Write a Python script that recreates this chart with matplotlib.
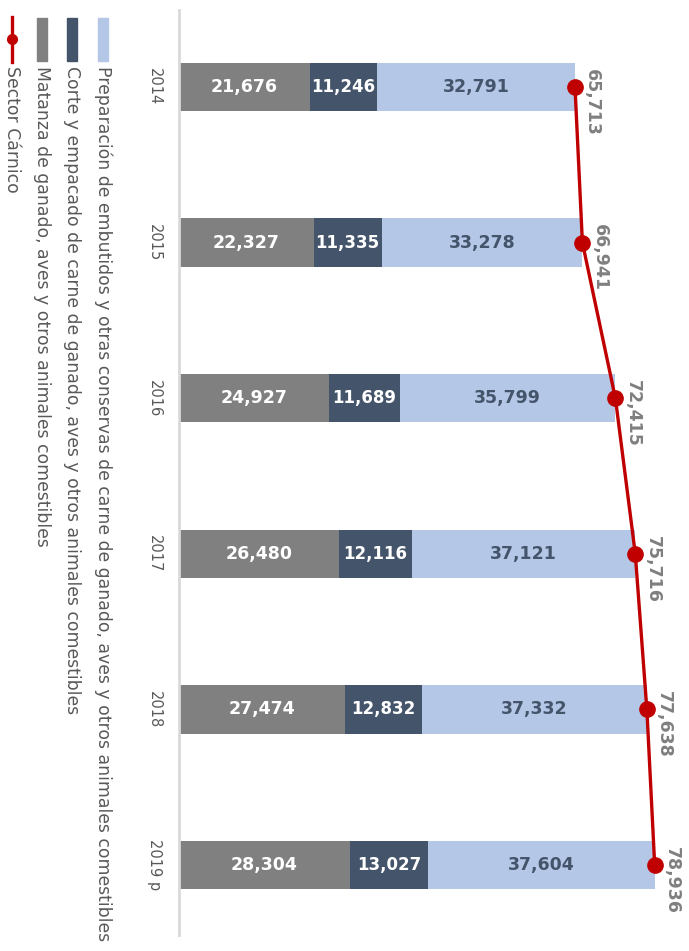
import matplotlib.pyplot as plt
from matplotlib.patches import Rectangle
from matplotlib.lines import Line2D

years = ['2014', '2015', '2016', '2017', '2018', '2019 p']
matanza = [21676, 22327, 24927, 26480, 27474, 28304]
corte = [11246, 11335, 11689, 12116, 12832, 13027]
embutidos = [32791, 33278, 35799, 37121, 37332, 37604]
sector = [65713, 66941, 72415, 75716, 77638, 78936]

series_names = [
    'Preparación de embutidos y otras conservas de carne de ganado, aves y otros animales comestibles',
    'Corte y empacado de carne de ganado, aves y otros animales comestibles',
    'Matanza de ganado, aves y otros animales comestibles',
    'Sector Cárnico',
]

c_gray = '#808080'
c_dark = '#44546A'
c_light = '#B4C7E7'
c_red = '#C00000'
c_text = '#595959'

W, H = 689, 951
fig = plt.figure(figsize=(W / 100, H / 100), dpi=100)
ax = fig.add_axes([179 / W, 16 / H, 1 - 179 / W, (935 - 10) / H])

y = list(range(len(years)))
h = 0.31
left2 = matanza
left3 = [a + b for a, b in zip(matanza, corte)]
ax.barh(y, matanza, height=h, color=c_gray, zorder=2)
ax.barh(y, corte, height=h, left=left2, color=c_dark, zorder=2)
ax.barh(y, embutidos, height=h, left=left3, color=c_light, zorder=2)

for i in y:
    ax.text(matanza[i] / 2, i, f'{matanza[i]:,}', ha='center', va='center',
            color='white', fontsize=12.5, fontweight='bold', zorder=3)
    ax.text(left2[i] + corte[i] / 2, i, f'{corte[i]:,}', ha='center', va='center',
            color='white', fontsize=12, fontweight='bold', zorder=3)
    ax.text(left3[i] + embutidos[i] / 2, i, f'{embutidos[i]:,}', ha='center', va='center',
            color=c_dark, fontsize=12.5, fontweight='bold', zorder=3)

ax.plot(sector, y, color=c_red, lw=2.4, marker='o', markersize=11, zorder=4)
for i in y:
    ax.annotate(f'{sector[i]:,}', (sector[i], i), xytext=(12.5, -11),
                textcoords='offset points', rotation=270, ha='center', va='center',
                color='#7F7F7F', fontsize=12.5, fontweight='bold', zorder=5)

ax.set_xlim(0, 84630)
ax.set_ylim(5.45, -0.495)
ax.set_xticks([])
ax.set_yticks(y, years, rotation=270, va='center', color=c_text, fontsize=10.5)
ax.tick_params(axis='y', length=0, pad=12)
for s in ['top', 'right', 'bottom']:
    ax.spines[s].set_visible(False)
ax.spines['left'].set_color('#D9D9D9')
ax.spines['left'].set_linewidth(2)

# legend drawn by hand, rotated like the chart
cols = [103, 72, 42, 12]
colors = [c_light, c_dark, c_gray]
for x, col in zip(cols[:3], colors):
    fig.add_artist(Rectangle(((x - 5) / W, 1 - 61 / H), 10 / W, 43 / H,
                             transform=fig.transFigure, color=col))
fig.add_artist(Line2D([12 / W, 12 / W], [1 - 17 / H, 1 - 62 / H],
                      transform=fig.transFigure, color=c_red, lw=2.4))
fig.add_artist(Line2D([12 / W], [1 - 39 / H], transform=fig.transFigure,
                      color=c_red, marker='o', markersize=7))
for x, name in zip(cols, series_names):
    fig.text(x / W, 1 - 66 / H, name, rotation=270, ha='center', va='top',
             color=c_text, fontsize=12.4)

fig.savefig('out.png', dpi=100)
